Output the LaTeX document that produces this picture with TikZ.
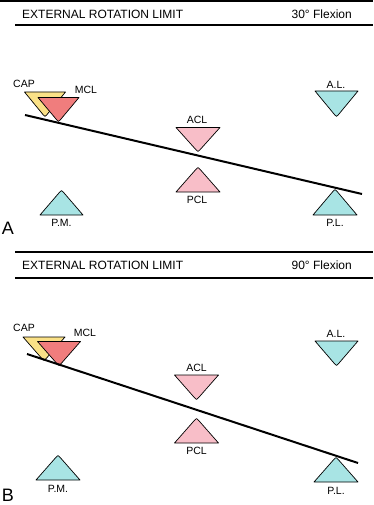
\documentclass[tikz,border=0pt]{standalone}
\usepackage{fontspec}
\setmainfont{Liberation Sans}
\usetikzlibrary{calc}
\definecolor{capY}{RGB}{250,225,135}
\definecolor{mclR}{RGB}{240,125,125}
\definecolor{crP}{RGB}{248,190,200}
\definecolor{lgC}{RGB}{168,228,228}
\tikzset{
  lig/.style={draw=black, line width=0.7pt, line join=round},
  lbl/.style={font=\fontsize{10.5}{12}\selectfont, inner sep=0pt},
  ttl/.style={font=\fontsize{12}{14}\selectfont, inner sep=0pt},
  panel/.style={font=\fontsize{18}{20}\selectfont, inner sep=0pt},
  rulebar/.style={line width=2pt},
  tibia/.style={line width=2pt}
}
% #1 name, #2 x, #3 base y, #4 apex y, #5 colour, #6 half width
\newcommand{\ligtri}[6]{%
  \coordinate (#1-l) at ({#2-#6},#3);
  \coordinate (#1-r) at ({#2+#6},#3);
  \coordinate (#1-a) at (#2,#4);
  \filldraw[lig, fill=#5] (#1-l) -- ($(#1-a)!3pt!(#1-l)$) .. controls (#1-a) .. ($(#1-a)!3pt!(#1-r)$) -- (#1-r) -- cycle;
}
\begin{document}
\begin{tikzpicture}[x=1pt,y=-1pt]
\useasboundingbox (0,0) rectangle (373,505);
% ---------- Panel A ----------
\draw[rulebar] (0,1.5) -- (373,1.5);
\node[ttl, anchor=west] (tA) at (22,14) {EXTERNAL ROTATION LIMIT};
\node[ttl, anchor=east] (fA) at (352,14) {30° Flexion};
\draw[rulebar] (15,25) -- (373,25);
\ligtri{capA}{45}{92}{117}{capY}{20.5}
\ligtri{mclA}{58.5}{97.5}{122}{mclR}{20.5}
\ligtri{alA}{336.5}{91}{117}{lgC}{21.5}
\ligtri{aclA}{198}{127.5}{152}{crP}{22}
\ligtri{pclA}{198}{192}{167}{crP}{22}
\ligtri{pmA}{61.5}{215}{190}{lgC}{21.5}
\ligtri{plA}{335}{215}{189}{lgC}{22}
\coordinate (tibA1) at (25,115);
\coordinate (tibA2) at (362,194);
\draw[tibia] (tibA1) -- (tibA2);
\node[lbl] (capLA) at (24,84) {CAP};
\node[lbl] (mclLA) at (86,90) {MCL};
\node[lbl] (alLA) at (336,85) {A.L.};
\node[lbl] (aclLA) at (197,119.5) {ACL};
\node[lbl] (pclLA) at (197,200) {PCL};
\node[lbl] (pmLA) at (61.5,223) {P.M.};
\node[lbl] (plLA) at (335,223) {P.L.};
\node[panel] (pA) at (8,228.5) {A};
% ---------- Panel B ----------
\draw[rulebar] (15,252) -- (373,252);
\node[ttl, anchor=west] (tB) at (22,265) {EXTERNAL ROTATION LIMIT};
\node[ttl, anchor=east] (fB) at (352,265) {90° Flexion};
\draw[rulebar] (15,278) -- (373,278);
\ligtri{capB}{44}{337}{361}{capY}{21}
\ligtri{mclB}{59}{341.5}{366}{mclR}{21.5}
\ligtri{alB}{336.5}{341}{366}{lgC}{21.5}
\ligtri{aclB}{196.5}{375}{400}{crP}{22}
\ligtri{pclB}{196.5}{443}{418}{crP}{22}
\ligtri{pmB}{58}{480}{455}{lgC}{22}
\ligtri{plB}{336}{482}{457}{lgC}{22}
\coordinate (tibB1) at (27,354);
\coordinate (tibB2) at (358,463);
\draw[tibia] (tibB1) -- (tibB2);
\node[lbl] (capLB) at (24,328) {CAP};
\node[lbl] (mclLB) at (85,333) {MCL};
\node[lbl] (alLB) at (336,334) {A.L.};
\node[lbl] (aclLB) at (196.5,367.5) {ACL};
\node[lbl] (pclLB) at (196.5,450.5) {PCL};
\node[lbl] (pmLB) at (58,489) {P.M.};
\node[lbl] (plLB) at (336,491) {P.L.};
\node[panel] (pB) at (8,495) {B};
\end{tikzpicture}
\end{document}
